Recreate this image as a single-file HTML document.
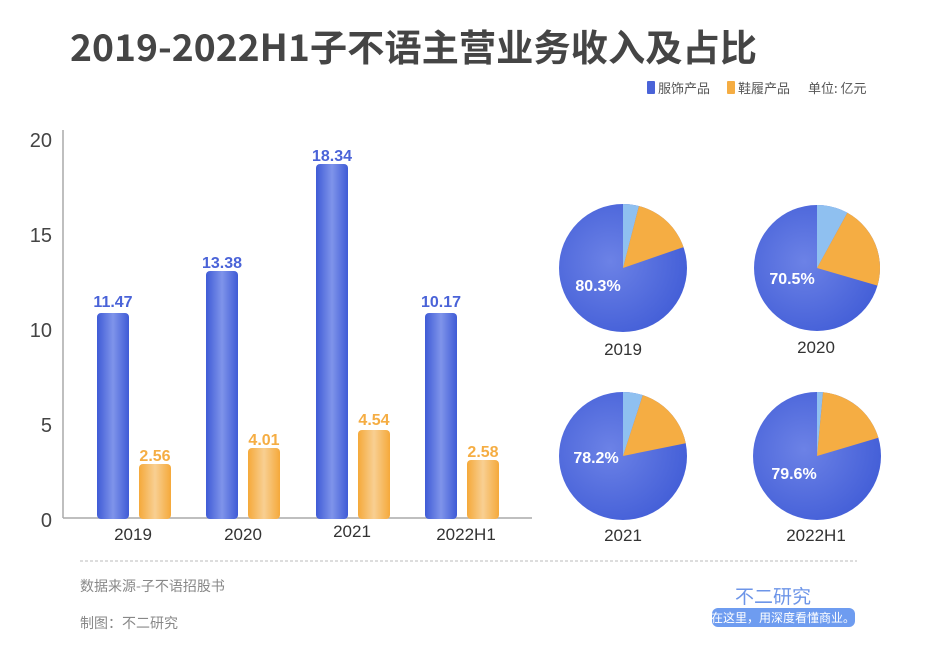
<!DOCTYPE html>
<html><head><meta charset="utf-8"><style>
html,body{margin:0;padding:0;background:#fff;}
body{width:940px;height:644px;overflow:hidden;font-family:"Liberation Sans","Noto Sans CJK SC",sans-serif;}
</style></head><body>
<svg width="940" height="644" viewBox="0 0 940 644" xmlns="http://www.w3.org/2000/svg" font-family="Liberation Sans, Noto Sans CJK SC, sans-serif">
<defs>
<linearGradient id="gb" x1="0" x2="1" y1="0" y2="0">
<stop offset="0" stop-color="#3f5bd6"/><stop offset="0.5" stop-color="#7f94ea"/><stop offset="1" stop-color="#3f5bd6"/></linearGradient>
<linearGradient id="go" x1="0" x2="1" y1="0" y2="0">
<stop offset="0" stop-color="#f5a93a"/><stop offset="0.5" stop-color="#f8cf92"/><stop offset="1" stop-color="#f5a93a"/></linearGradient>
<radialGradient id="pb" cx="0.4" cy="0.45" r="0.6"><stop offset="0" stop-color="#6c82e6"/><stop offset="1" stop-color="#4560d8"/></radialGradient>
</defs>
<text x="70" y="61" font-size="37" font-weight="bold" fill="#454545" textLength="687" lengthAdjust="spacingAndGlyphs" font-family="Noto Sans CJK SC, sans-serif">2019-2022H1子不语主营业务收入及占比</text>
<rect x="647" y="81" width="8" height="13" rx="1" fill="#4a63d8"/>
<text x="658" y="93" font-size="13" fill="#555" font-family="Noto Sans CJK SC, sans-serif">服饰产品</text>
<rect x="727" y="81" width="8" height="13" rx="1" fill="#f5ad43"/>
<text x="738" y="93" font-size="13" fill="#555" font-family="Noto Sans CJK SC, sans-serif">鞋履产品</text>
<text x="808" y="93" font-size="13" fill="#555" font-family="Noto Sans CJK SC, sans-serif">单位: 亿元</text>
<g font-size="20" fill="#444" text-anchor="end">
<text x="52" y="147">20</text><text x="52" y="242">15</text><text x="52" y="337">10</text><text x="52" y="432">5</text><text x="52" y="527">0</text>
</g>
<line x1="63" y1="130" x2="63" y2="518" stroke="#aaa" stroke-width="1.5"/>
<line x1="63" y1="518" x2="532" y2="518" stroke="#aaa" stroke-width="1.5"/>
<g>
<rect x="97" y="313" width="32" height="206" rx="4" fill="url(#gb)"/>
<rect x="139" y="464" width="32" height="55" rx="4" fill="url(#go)"/>
<rect x="206" y="271" width="32" height="248" rx="4" fill="url(#gb)"/>
<rect x="248" y="448" width="32" height="71" rx="4" fill="url(#go)"/>
<rect x="316" y="164" width="32" height="355" rx="4" fill="url(#gb)"/>
<rect x="358" y="430" width="32" height="89" rx="4" fill="url(#go)"/>
<rect x="425" y="313" width="32" height="206" rx="4" fill="url(#gb)"/>
<rect x="467" y="460" width="32" height="59" rx="4" fill="url(#go)"/>
</g>
<g font-size="16" font-weight="bold" text-anchor="middle">
<text x="113" y="307" fill="#4a63d8">11.47</text>
<text x="155" y="461" fill="#f5ad43">2.56</text>
<text x="222" y="268" fill="#4a63d8">13.38</text>
<text x="264" y="445" fill="#f5ad43">4.01</text>
<text x="332" y="161" fill="#4a63d8">18.34</text>
<text x="374" y="425" fill="#f5ad43">4.54</text>
<text x="441" y="307" fill="#4a63d8">10.17</text>
<text x="483" y="457" fill="#f5ad43">2.58</text>
</g>
<g font-size="17" fill="#333" text-anchor="middle">
<text x="133" y="540">2019</text><text x="243" y="540">2020</text><text x="352" y="537">2021</text><text x="466" y="540">2022H1</text>
</g>
<g id="pies"></g>
<g font-size="17" fill="#333" text-anchor="middle">
<text x="623" y="355">2019</text><text x="816" y="353">2020</text><text x="623" y="541">2021</text><text x="816" y="541">2022H1</text>
</g>
<line x1="80" y1="561" x2="857" y2="561" stroke="#bbb" stroke-dasharray="3,2"/>
<text x="80" y="591" font-size="14" fill="#888" font-family="Noto Sans CJK SC, sans-serif">数据来源-子不语招股书</text>
<text x="80" y="628" font-size="14" fill="#888" font-family="Noto Sans CJK SC, sans-serif">制图：不二研究</text>
<text x="773" y="603" font-size="19" fill="#6d95e8" text-anchor="middle" font-family="Noto Sans CJK SC, sans-serif">不二研究</text>
<rect x="712" y="608" width="143" height="19" rx="6" fill="#6e9cf0"/>
<text x="783" y="622" font-size="12" fill="#fff" text-anchor="middle" font-family="Noto Sans CJK SC, sans-serif">在这里，用深度看懂商业。</text>
</svg>
<script>
var pies=[[623,268,64,0.04,0.157,"80.3%",598,291],[817,268,63,0.08,0.215,"70.5%",792,284],[623,456,64,0.05,0.168,"78.2%",596,463],[817,456,64,0.015,0.189,"79.6%",794,479]];
var g=document.getElementById('pies'),s='';
function pt(cx,cy,r,f){var a=f*2*Math.PI;return [cx+r*Math.sin(a),cy-r*Math.cos(a)];}
pies.forEach(function(p){var cx=p[0],cy=p[1],r=p[2];
s+='<circle cx="'+cx+'" cy="'+cy+'" r="'+r+'" fill="url(#pb)"/>';
var a=pt(cx,cy,r,0),b=pt(cx,cy,r,p[3]),c=pt(cx,cy,r,p[3]+p[4]);
s+='<path d="M'+cx+','+cy+'L'+a+'A'+r+','+r+' 0 0 1 '+b+'Z" fill="#8fc0f0"/>';
s+='<path d="M'+cx+','+cy+'L'+b+'A'+r+','+r+' 0 0 1 '+c+'Z" fill="#f5ad43"/>';
s+='<text x="'+p[6]+'" y="'+p[7]+'" font-size="16" font-weight="bold" fill="#fff" text-anchor="middle">'+p[5]+'</text>';});
g.innerHTML=s;
</script>
</body></html>
